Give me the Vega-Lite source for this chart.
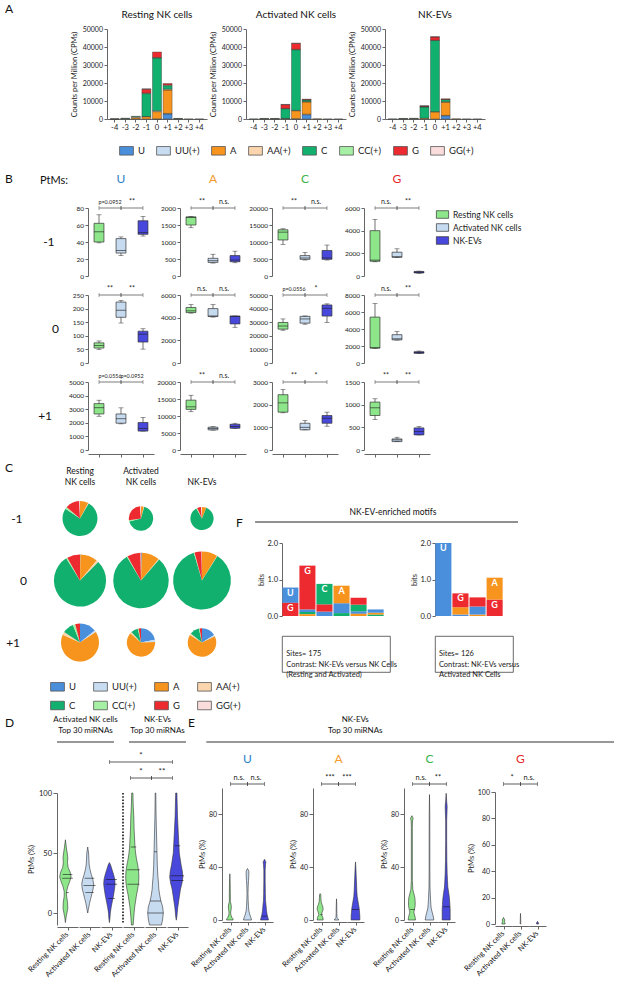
{
"$schema": "https://vega.github.io/schema/vega-lite/v6.json",
"padding": {"left": 5, "top": 3, "right": 2, "bottom": 0},
"config": {
  "font": "Lato",
  "view": {"stroke": null},
  "axis": {"grid": false, "labelFontSize": 7, "titleFontSize": 7.5, "titleFontWeight": "normal", "domainColor": "#666", "tickColor": "#666", "labelColor": "#222", "titleColor": "#222", "tickSize": 3, "labelPadding": 1.5},
  "title": {"fontWeight": "normal", "fontSize": 10, "color": "#111"},
  "header": {"labelFontWeight": "normal", "labelColor": "#111"},
  "legend": {"labelFontSize": 9, "labelColor": "#222"}
},
"resolve": {"scale": {"color": "independent"}},
"spacing": 4,
"datasets": {
"cpm": [
{"sample":"Resting NK cells","pos":"-4","nt":"A","cpm":60},{"sample":"Resting NK cells","pos":"-4","nt":"C","cpm":40},
{"sample":"Resting NK cells","pos":"-3","nt":"A","cpm":250},{"sample":"Resting NK cells","pos":"-3","nt":"C","cpm":200},
{"sample":"Resting NK cells","pos":"-2","nt":"A","cpm":700},{"sample":"Resting NK cells","pos":"-2","nt":"AA(+)","cpm":500},{"sample":"Resting NK cells","pos":"-2","nt":"C","cpm":300},
{"sample":"Resting NK cells","pos":"-1","nt":"A","cpm":1300},{"sample":"Resting NK cells","pos":"-1","nt":"AA(+)","cpm":100},{"sample":"Resting NK cells","pos":"-1","nt":"C","cpm":12700},{"sample":"Resting NK cells","pos":"-1","nt":"CC(+)","cpm":300},{"sample":"Resting NK cells","pos":"-1","nt":"G","cpm":2200},{"sample":"Resting NK cells","pos":"-1","nt":"GG(+)","cpm":100},
{"sample":"Resting NK cells","pos":"0","nt":"U","cpm":100},{"sample":"Resting NK cells","pos":"0","nt":"A","cpm":4000},{"sample":"Resting NK cells","pos":"0","nt":"AA(+)","cpm":500},{"sample":"Resting NK cells","pos":"0","nt":"C","cpm":29300},{"sample":"Resting NK cells","pos":"0","nt":"CC(+)","cpm":300},{"sample":"Resting NK cells","pos":"0","nt":"G","cpm":3000},
{"sample":"Resting NK cells","pos":"+1","nt":"U","cpm":2800},{"sample":"Resting NK cells","pos":"+1","nt":"UU(+)","cpm":300},{"sample":"Resting NK cells","pos":"+1","nt":"A","cpm":13000},{"sample":"Resting NK cells","pos":"+1","nt":"AA(+)","cpm":500},{"sample":"Resting NK cells","pos":"+1","nt":"C","cpm":1900},{"sample":"Resting NK cells","pos":"+1","nt":"CC(+)","cpm":400},{"sample":"Resting NK cells","pos":"+1","nt":"G","cpm":800},
{"sample":"Resting NK cells","pos":"+2","nt":"A","cpm":200},{"sample":"Resting NK cells","pos":"+2","nt":"C","cpm":100},
{"sample":"Resting NK cells","pos":"+3","nt":"A","cpm":30},{"sample":"Resting NK cells","pos":"+4","nt":"A","cpm":20},
{"sample":"Activated NK cells","pos":"-4","nt":"C","cpm":50},
{"sample":"Activated NK cells","pos":"-3","nt":"A","cpm":200},{"sample":"Activated NK cells","pos":"-3","nt":"C","cpm":100},
{"sample":"Activated NK cells","pos":"-2","nt":"A","cpm":200},{"sample":"Activated NK cells","pos":"-2","nt":"C","cpm":100},
{"sample":"Activated NK cells","pos":"-1","nt":"A","cpm":300},{"sample":"Activated NK cells","pos":"-1","nt":"AA(+)","cpm":50},{"sample":"Activated NK cells","pos":"-1","nt":"C","cpm":5400},{"sample":"Activated NK cells","pos":"-1","nt":"CC(+)","cpm":150},{"sample":"Activated NK cells","pos":"-1","nt":"G","cpm":2100},{"sample":"Activated NK cells","pos":"-1","nt":"GG(+)","cpm":100},
{"sample":"Activated NK cells","pos":"0","nt":"U","cpm":200},{"sample":"Activated NK cells","pos":"0","nt":"A","cpm":4400},{"sample":"Activated NK cells","pos":"0","nt":"AA(+)","cpm":200},{"sample":"Activated NK cells","pos":"0","nt":"C","cpm":33700},{"sample":"Activated NK cells","pos":"0","nt":"CC(+)","cpm":200},{"sample":"Activated NK cells","pos":"0","nt":"G","cpm":3300},{"sample":"Activated NK cells","pos":"0","nt":"GG(+)","cpm":100},
{"sample":"Activated NK cells","pos":"+1","nt":"U","cpm":2400},{"sample":"Activated NK cells","pos":"+1","nt":"UU(+)","cpm":300},{"sample":"Activated NK cells","pos":"+1","nt":"A","cpm":6800},{"sample":"Activated NK cells","pos":"+1","nt":"AA(+)","cpm":200},{"sample":"Activated NK cells","pos":"+1","nt":"C","cpm":900},{"sample":"Activated NK cells","pos":"+1","nt":"CC(+)","cpm":100},{"sample":"Activated NK cells","pos":"+1","nt":"G","cpm":300},
{"sample":"Activated NK cells","pos":"+2","nt":"A","cpm":100},{"sample":"Activated NK cells","pos":"+3","nt":"A","cpm":20},{"sample":"Activated NK cells","pos":"+4","nt":"A","cpm":10},
{"sample":"NK-EVs","pos":"-4","nt":"C","cpm":50},
{"sample":"NK-EVs","pos":"-3","nt":"A","cpm":200},{"sample":"NK-EVs","pos":"-3","nt":"C","cpm":100},
{"sample":"NK-EVs","pos":"-2","nt":"A","cpm":250},{"sample":"NK-EVs","pos":"-2","nt":"C","cpm":150},
{"sample":"NK-EVs","pos":"-1","nt":"A","cpm":450},{"sample":"NK-EVs","pos":"-1","nt":"C","cpm":6300},{"sample":"NK-EVs","pos":"-1","nt":"CC(+)","cpm":100},{"sample":"NK-EVs","pos":"-1","nt":"G","cpm":400},{"sample":"NK-EVs","pos":"-1","nt":"GG(+)","cpm":100},
{"sample":"NK-EVs","pos":"0","nt":"A","cpm":4000},{"sample":"NK-EVs","pos":"0","nt":"AA(+)","cpm":100},{"sample":"NK-EVs","pos":"0","nt":"C","cpm":39500},{"sample":"NK-EVs","pos":"0","nt":"CC(+)","cpm":200},{"sample":"NK-EVs","pos":"0","nt":"G","cpm":1800},{"sample":"NK-EVs","pos":"0","nt":"GG(+)","cpm":100},
{"sample":"NK-EVs","pos":"+1","nt":"U","cpm":1800},{"sample":"NK-EVs","pos":"+1","nt":"UU(+)","cpm":200},{"sample":"NK-EVs","pos":"+1","nt":"A","cpm":7400},{"sample":"NK-EVs","pos":"+1","nt":"AA(+)","cpm":200},{"sample":"NK-EVs","pos":"+1","nt":"C","cpm":1200},{"sample":"NK-EVs","pos":"+1","nt":"CC(+)","cpm":100},{"sample":"NK-EVs","pos":"+1","nt":"G","cpm":300},
{"sample":"NK-EVs","pos":"+2","nt":"A","cpm":100},{"sample":"NK-EVs","pos":"+3","nt":"A","cpm":20},{"sample":"NK-EVs","pos":"+4","nt":"A","cpm":10}
],
"box": [
{"kind":"box","pos":"-1","nt":"U","g":"Resting NK cells","mn":39,"q1":40,"md":52,"q3":62,"mx":72,"top":80},
{"kind":"box","pos":"-1","nt":"U","g":"Activated NK cells","mn":24,"q1":27,"md":30,"q3":44,"mx":46,"top":80},
{"kind":"box","pos":"-1","nt":"U","g":"NK-EVs","mn":47,"q1":49,"md":51,"q3":65,"mx":70,"top":80},
{"kind":"box","pos":"-1","nt":"A","g":"Resting NK cells","mn":1420,"q1":1500,"md":1720,"q3":1740,"mx":1750,"top":2000},
{"kind":"box","pos":"-1","nt":"A","g":"Activated NK cells","mn":380,"q1":400,"md":450,"q3":520,"mx":640,"top":2000},
{"kind":"box","pos":"-1","nt":"A","g":"NK-EVs","mn":390,"q1":420,"md":470,"q3":600,"mx":730,"top":2000},
{"kind":"box","pos":"-1","nt":"C","g":"Resting NK cells","mn":9300,"q1":10600,"md":12900,"q3":13600,"mx":13900,"top":20000},
{"kind":"box","pos":"-1","nt":"C","g":"Activated NK cells","mn":4700,"q1":4900,"md":5300,"q3":6000,"mx":6900,"top":20000},
{"kind":"box","pos":"-1","nt":"C","g":"NK-EVs","mn":4700,"q1":4900,"md":5300,"q3":7500,"mx":9100,"top":20000},
{"kind":"box","pos":"-1","nt":"G","g":"Resting NK cells","mn":1250,"q1":1300,"md":1400,"q3":4000,"mx":5000,"top":6000},
{"kind":"box","pos":"-1","nt":"G","g":"Activated NK cells","mn":1650,"q1":1650,"md":1700,"q3":2100,"mx":2400,"top":6000},
{"kind":"box","pos":"-1","nt":"G","g":"NK-EVs","mn":240,"q1":270,"md":330,"q3":400,"mx":430,"top":6000},
{"kind":"box","pos":"0","nt":"U","g":"Resting NK cells","mn":49,"q1":55,"md":64,"q3":74,"mx":81,"top":250},
{"kind":"box","pos":"0","nt":"U","g":"Activated NK cells","mn":147,"q1":168,"md":194,"q3":224,"mx":230,"top":250},
{"kind":"box","pos":"0","nt":"U","g":"NK-EVs","mn":51,"q1":77,"md":106,"q3":117,"mx":126,"top":250},
{"kind":"box","pos":"0","nt":"A","g":"Resting NK cells","mn":4400,"q1":4450,"md":4600,"q3":4900,"mx":5150,"top":6000},
{"kind":"box","pos":"0","nt":"A","g":"Activated NK cells","mn":4050,"q1":4100,"md":4150,"q3":4800,"mx":5150,"top":6000},
{"kind":"box","pos":"0","nt":"A","g":"NK-EVs","mn":3150,"q1":3450,"md":4100,"q3":4150,"mx":4150,"top":6000},
{"kind":"box","pos":"0","nt":"C","g":"Resting NK cells","mn":24100,"q1":24900,"md":27200,"q3":29800,"mx":32400,"top":50000},
{"kind":"box","pos":"0","nt":"C","g":"Activated NK cells","mn":28500,"q1":29300,"md":32400,"q3":34300,"mx":34600,"top":50000},
{"kind":"box","pos":"0","nt":"C","g":"NK-EVs","mn":29800,"q1":34500,"md":40200,"q3":42700,"mx":43500,"top":50000},
{"kind":"box","pos":"0","nt":"G","g":"Resting NK cells","mn":1700,"q1":1750,"md":1800,"q3":5400,"mx":7000,"top":8000},
{"kind":"box","pos":"0","nt":"G","g":"Activated NK cells","mn":2700,"q1":2720,"md":2850,"q3":3330,"mx":3730,"top":8000},
{"kind":"box","pos":"0","nt":"G","g":"NK-EVs","mn":1100,"q1":1140,"md":1220,"q3":1330,"mx":1410,"top":8000},
{"kind":"box","pos":"+1","nt":"U","g":"Resting NK cells","mn":2480,"q1":2650,"md":3110,"q3":3410,"mx":3660,"top":5000},
{"kind":"box","pos":"+1","nt":"U","g":"Activated NK cells","mn":1920,"q1":1970,"md":2300,"q3":2650,"mx":3100,"top":5000},
{"kind":"box","pos":"+1","nt":"U","g":"NK-EVs","mn":1390,"q1":1390,"md":1590,"q3":2020,"mx":2400,"top":5000},
{"kind":"box","pos":"+1","nt":"A","g":"Resting NK cells","mn":11260,"q1":11940,"md":12700,"q3":14660,"mx":16100,"top":20000},
{"kind":"box","pos":"+1","nt":"A","g":"Activated NK cells","mn":5830,"q1":5920,"md":6310,"q3":6700,"mx":6900,"top":20000},
{"kind":"box","pos":"+1","nt":"A","g":"NK-EVs","mn":6310,"q1":6400,"md":6890,"q3":7570,"mx":7860,"top":20000},
{"kind":"box","pos":"+1","nt":"C","g":"Resting NK cells","mn":1640,"q1":1670,"md":2080,"q3":2440,"mx":2670,"top":3000},
{"kind":"box","pos":"+1","nt":"C","g":"Activated NK cells","mn":890,"q1":890,"md":1000,"q3":1180,"mx":1300,"top":3000},
{"kind":"box","pos":"+1","nt":"C","g":"NK-EVs","mn":1050,"q1":1180,"md":1400,"q3":1520,"mx":1670,"top":3000},
{"kind":"box","pos":"+1","nt":"G","g":"Resting NK cells","mn":672,"q1":761,"md":931,"q3":1057,"mx":1130,"top":1500},
{"kind":"box","pos":"+1","nt":"G","g":"Activated NK cells","mn":185,"q1":185,"md":222,"q3":244,"mx":281,"top":1500},
{"kind":"box","pos":"+1","nt":"G","g":"NK-EVs","mn":333,"q1":333,"md":406,"q3":488,"mx":517,"top":1500},
{"kind":"sig","pos":"-1","nt":"U","from":"Resting NK cells","to":"Activated NK cells","label":"p=0.0952","top":80},
{"kind":"sig","pos":"-1","nt":"U","from":"Activated NK cells","to":"NK-EVs","label":"**","top":80},
{"kind":"sig","pos":"-1","nt":"A","from":"Resting NK cells","to":"Activated NK cells","label":"**","top":2000},
{"kind":"sig","pos":"-1","nt":"A","from":"Activated NK cells","to":"NK-EVs","label":"n.s.","top":2000},
{"kind":"sig","pos":"-1","nt":"C","from":"Resting NK cells","to":"Activated NK cells","label":"**","top":20000},
{"kind":"sig","pos":"-1","nt":"C","from":"Activated NK cells","to":"NK-EVs","label":"n.s.","top":20000},
{"kind":"sig","pos":"-1","nt":"G","from":"Resting NK cells","to":"Activated NK cells","label":"n.s.","top":6000},
{"kind":"sig","pos":"-1","nt":"G","from":"Activated NK cells","to":"NK-EVs","label":"**","top":6000},
{"kind":"sig","pos":"0","nt":"U","from":"Resting NK cells","to":"Activated NK cells","label":"**","top":250},
{"kind":"sig","pos":"0","nt":"U","from":"Activated NK cells","to":"NK-EVs","label":"**","top":250},
{"kind":"sig","pos":"0","nt":"A","from":"Resting NK cells","to":"Activated NK cells","label":"n.s.","top":6000},
{"kind":"sig","pos":"0","nt":"A","from":"Activated NK cells","to":"NK-EVs","label":"n.s.","top":6000},
{"kind":"sig","pos":"0","nt":"C","from":"Resting NK cells","to":"Activated NK cells","label":"p=0.0556","top":50000},
{"kind":"sig","pos":"0","nt":"C","from":"Activated NK cells","to":"NK-EVs","label":"*","top":50000},
{"kind":"sig","pos":"0","nt":"G","from":"Resting NK cells","to":"Activated NK cells","label":"n.s.","top":8000},
{"kind":"sig","pos":"0","nt":"G","from":"Activated NK cells","to":"NK-EVs","label":"**","top":8000},
{"kind":"sig","pos":"+1","nt":"U","from":"Resting NK cells","to":"Activated NK cells","label":"p=0.0556","top":5000},
{"kind":"sig","pos":"+1","nt":"U","from":"Activated NK cells","to":"NK-EVs","label":"p=0.0952","top":5000},
{"kind":"sig","pos":"+1","nt":"A","from":"Resting NK cells","to":"Activated NK cells","label":"**","top":20000},
{"kind":"sig","pos":"+1","nt":"A","from":"Activated NK cells","to":"NK-EVs","label":"n.s.","top":20000},
{"kind":"sig","pos":"+1","nt":"C","from":"Resting NK cells","to":"Activated NK cells","label":"**","top":3000},
{"kind":"sig","pos":"+1","nt":"C","from":"Activated NK cells","to":"NK-EVs","label":"*","top":3000},
{"kind":"sig","pos":"+1","nt":"G","from":"Resting NK cells","to":"Activated NK cells","label":"**","top":1500},
{"kind":"sig","pos":"+1","nt":"G","from":"Activated NK cells","to":"NK-EVs","label":"**","top":1500}
],
"logo": [
{"motif":1,"p":1,"nt":"U","bits":0.42},{"motif":1,"p":1,"nt":"G","bits":0.36},
{"motif":1,"p":2,"nt":"C","bits":0.06},{"motif":1,"p":2,"nt":"A","bits":0.05},{"motif":1,"p":2,"nt":"U","bits":0.07},{"motif":1,"p":2,"nt":"G","bits":1.2},
{"motif":1,"p":3,"nt":"U","bits":0.12},{"motif":1,"p":3,"nt":"G","bits":0.2},{"motif":1,"p":3,"nt":"C","bits":0.56},
{"motif":1,"p":4,"nt":"C","bits":0.08},{"motif":1,"p":4,"nt":"U","bits":0.27},{"motif":1,"p":4,"nt":"A","bits":0.48},
{"motif":1,"p":5,"nt":"U","bits":0.07},{"motif":1,"p":5,"nt":"A","bits":0.06},{"motif":1,"p":5,"nt":"C","bits":0.18},{"motif":1,"p":5,"nt":"G","bits":0.19},
{"motif":1,"p":6,"nt":"C","bits":0.04},{"motif":1,"p":6,"nt":"A","bits":0.05},{"motif":1,"p":6,"nt":"U","bits":0.09},
{"motif":2,"p":1,"nt":"U","bits":2.0},
{"motif":2,"p":2,"nt":"U","bits":0.04},{"motif":2,"p":2,"nt":"A","bits":0.2},{"motif":2,"p":2,"nt":"G","bits":0.38},
{"motif":2,"p":3,"nt":"A","bits":0.04},{"motif":2,"p":3,"nt":"U","bits":0.22},{"motif":2,"p":3,"nt":"G","bits":0.25},
{"motif":2,"p":4,"nt":"G","bits":0.45},{"motif":2,"p":4,"nt":"A","bits":0.6}
],
"sigv": [
{"set":"D","a":3,"b":6,"m":5,"lv":2,"label":"*"},
{"set":"D","a":4,"b":5,"m":5,"lv":1,"label":"*"},
{"set":"D","a":5,"b":6,"m":6,"lv":1,"label":"**"},
{"set":"U","a":1,"b":2,"m":2,"lv":1,"label":"n.s."},{"set":"U","a":2,"b":3,"m":3,"lv":1,"label":"n.s."},
{"set":"A","a":1,"b":2,"m":2,"lv":1,"label":"***"},{"set":"A","a":2,"b":3,"m":3,"lv":1,"label":"***"},
{"set":"C","a":1,"b":2,"m":2,"lv":1,"label":"n.s."},{"set":"C","a":2,"b":3,"m":3,"lv":1,"label":"**"},
{"set":"G","a":1,"b":2,"m":2,"lv":1,"label":"*"},{"set":"G","a":2,"b":3,"m":3,"lv":1,"label":"n.s."}
],
"viol": [
{"set":"D","grp":1,"ptm":-8,"dens":0},{"set":"D","grp":1,"ptm":-4,"dens":4},{"set":"D","grp":1,"ptm":0,"dens":10},{"set":"D","grp":1,"ptm":4,"dens":16},{"set":"D","grp":1,"ptm":9,"dens":14},{"set":"D","grp":1,"ptm":14,"dens":8},{"set":"D","grp":1,"ptm":18,"dens":8},{"set":"D","grp":1,"ptm":22,"dens":16},{"set":"D","grp":1,"ptm":26,"dens":28},{"set":"D","grp":1,"ptm":30,"dens":38},{"set":"D","grp":1,"ptm":34,"dens":32},{"set":"D","grp":1,"ptm":38,"dens":18},{"set":"D","grp":1,"ptm":42,"dens":14},{"set":"D","grp":1,"ptm":46,"dens":16},{"set":"D","grp":1,"ptm":50,"dens":12},{"set":"D","grp":1,"ptm":55,"dens":6},{"set":"D","grp":1,"ptm":61,"dens":0},
{"set":"D","grp":2,"ptm":0,"dens":0},{"set":"D","grp":2,"ptm":4,"dens":6},{"set":"D","grp":2,"ptm":8,"dens":12},{"set":"D","grp":2,"ptm":12,"dens":20},{"set":"D","grp":2,"ptm":16,"dens":28},{"set":"D","grp":2,"ptm":20,"dens":36},{"set":"D","grp":2,"ptm":24,"dens":40},{"set":"D","grp":2,"ptm":28,"dens":34},{"set":"D","grp":2,"ptm":32,"dens":24},{"set":"D","grp":2,"ptm":36,"dens":16},{"set":"D","grp":2,"ptm":40,"dens":10},{"set":"D","grp":2,"ptm":45,"dens":8},{"set":"D","grp":2,"ptm":50,"dens":6},{"set":"D","grp":2,"ptm":55,"dens":0},
{"set":"D","grp":3,"ptm":-8,"dens":0},{"set":"D","grp":3,"ptm":-4,"dens":4},{"set":"D","grp":3,"ptm":0,"dens":6},{"set":"D","grp":3,"ptm":5,"dens":12},{"set":"D","grp":3,"ptm":10,"dens":20},{"set":"D","grp":3,"ptm":15,"dens":28},{"set":"D","grp":3,"ptm":20,"dens":34},{"set":"D","grp":3,"ptm":24,"dens":38},{"set":"D","grp":3,"ptm":28,"dens":36},{"set":"D","grp":3,"ptm":32,"dens":28},{"set":"D","grp":3,"ptm":36,"dens":18},{"set":"D","grp":3,"ptm":40,"dens":8},{"set":"D","grp":3,"ptm":42,"dens":0},
{"set":"D","grp":4,"ptm":-10,"dens":6},{"set":"D","grp":4,"ptm":-6,"dens":8},{"set":"D","grp":4,"ptm":0,"dens":12},{"set":"D","grp":4,"ptm":5,"dens":16},{"set":"D","grp":4,"ptm":10,"dens":22},{"set":"D","grp":4,"ptm":15,"dens":28},{"set":"D","grp":4,"ptm":20,"dens":36},{"set":"D","grp":4,"ptm":25,"dens":42},{"set":"D","grp":4,"ptm":30,"dens":44},{"set":"D","grp":4,"ptm":35,"dens":42},{"set":"D","grp":4,"ptm":40,"dens":36},{"set":"D","grp":4,"ptm":45,"dens":28},{"set":"D","grp":4,"ptm":50,"dens":22},{"set":"D","grp":4,"ptm":55,"dens":18},{"set":"D","grp":4,"ptm":60,"dens":16},{"set":"D","grp":4,"ptm":70,"dens":12},{"set":"D","grp":4,"ptm":80,"dens":10},{"set":"D","grp":4,"ptm":90,"dens":6},{"set":"D","grp":4,"ptm":100,"dens":4},
{"set":"D","grp":5,"ptm":-10,"dens":40},{"set":"D","grp":5,"ptm":-5,"dens":48},{"set":"D","grp":5,"ptm":0,"dens":52},{"set":"D","grp":5,"ptm":5,"dens":48},{"set":"D","grp":5,"ptm":10,"dens":36},{"set":"D","grp":5,"ptm":15,"dens":28},{"set":"D","grp":5,"ptm":20,"dens":22},{"set":"D","grp":5,"ptm":25,"dens":20},{"set":"D","grp":5,"ptm":30,"dens":16},{"set":"D","grp":5,"ptm":40,"dens":12},{"set":"D","grp":5,"ptm":50,"dens":10},{"set":"D","grp":5,"ptm":60,"dens":8},{"set":"D","grp":5,"ptm":70,"dens":6},{"set":"D","grp":5,"ptm":80,"dens":4},{"set":"D","grp":5,"ptm":90,"dens":3},{"set":"D","grp":5,"ptm":100,"dens":2},
{"set":"D","grp":6,"ptm":-6,"dens":0},{"set":"D","grp":6,"ptm":-3,"dens":4},{"set":"D","grp":6,"ptm":0,"dens":6},{"set":"D","grp":6,"ptm":5,"dens":10},{"set":"D","grp":6,"ptm":10,"dens":16},{"set":"D","grp":6,"ptm":15,"dens":22},{"set":"D","grp":6,"ptm":20,"dens":28},{"set":"D","grp":6,"ptm":25,"dens":38},{"set":"D","grp":6,"ptm":30,"dens":44},{"set":"D","grp":6,"ptm":35,"dens":40},{"set":"D","grp":6,"ptm":40,"dens":32},{"set":"D","grp":6,"ptm":45,"dens":26},{"set":"D","grp":6,"ptm":50,"dens":20},{"set":"D","grp":6,"ptm":55,"dens":18},{"set":"D","grp":6,"ptm":60,"dens":16},{"set":"D","grp":6,"ptm":70,"dens":12},{"set":"D","grp":6,"ptm":80,"dens":8},{"set":"D","grp":6,"ptm":90,"dens":6},{"set":"D","grp":6,"ptm":100,"dens":4},
{"set":"D","grp":1,"kind":"med","ptm":29,"dens":36},{"set":"D","grp":1,"kind":"q","ptm":32,"dens":32},{"set":"D","grp":1,"kind":"q","ptm":17,"dens":8},
{"set":"D","grp":2,"kind":"med","ptm":23,"dens":40},{"set":"D","grp":2,"kind":"q","ptm":29,"dens":32},{"set":"D","grp":2,"kind":"q","ptm":17,"dens":28},
{"set":"D","grp":3,"kind":"med","ptm":24,"dens":38},{"set":"D","grp":3,"kind":"q","ptm":28,"dens":36},{"set":"D","grp":3,"kind":"q","ptm":12,"dens":22},
{"set":"D","grp":4,"kind":"med","ptm":36,"dens":42},{"set":"D","grp":4,"kind":"q","ptm":55,"dens":18},{"set":"D","grp":4,"kind":"q","ptm":24,"dens":40},
{"set":"D","grp":5,"kind":"med","ptm":10,"dens":36},{"set":"D","grp":5,"kind":"q","ptm":51,"dens":10},{"set":"D","grp":5,"kind":"q","ptm":0,"dens":52},
{"set":"D","grp":6,"kind":"med","ptm":31,"dens":44},{"set":"D","grp":6,"kind":"q","ptm":56,"dens":18},{"set":"D","grp":6,"kind":"q","ptm":27,"dens":40},
{"set":"D","grp":4,"kind":"sep","ptm":0,"dens":0},
{"set":"U","grp":1,"ptm":0,"dens":20},{"set":"U","grp":1,"ptm":1,"dens":18},{"set":"U","grp":1,"ptm":2,"dens":12},{"set":"U","grp":1,"ptm":4,"dens":6},{"set":"U","grp":1,"ptm":6,"dens":5},{"set":"U","grp":1,"ptm":8,"dens":8},{"set":"U","grp":1,"ptm":10,"dens":9},{"set":"U","grp":1,"ptm":12,"dens":7},{"set":"U","grp":1,"ptm":14,"dens":3},{"set":"U","grp":1,"ptm":20,"dens":3},{"set":"U","grp":1,"ptm":28,"dens":2},{"set":"U","grp":1,"ptm":35,"dens":0},
{"set":"U","grp":2,"ptm":0,"dens":24},{"set":"U","grp":2,"ptm":2,"dens":20},{"set":"U","grp":2,"ptm":4,"dens":14},{"set":"U","grp":2,"ptm":7,"dens":8},{"set":"U","grp":2,"ptm":10,"dens":6},{"set":"U","grp":2,"ptm":15,"dens":4},{"set":"U","grp":2,"ptm":20,"dens":3},{"set":"U","grp":2,"ptm":25,"dens":4},{"set":"U","grp":2,"ptm":30,"dens":6},{"set":"U","grp":2,"ptm":34,"dens":8},{"set":"U","grp":2,"ptm":37,"dens":8},{"set":"U","grp":2,"ptm":39,"dens":0},
{"set":"U","grp":3,"ptm":0,"dens":24},{"set":"U","grp":3,"ptm":2,"dens":20},{"set":"U","grp":3,"ptm":4,"dens":16},{"set":"U","grp":3,"ptm":7,"dens":12},{"set":"U","grp":3,"ptm":10,"dens":10},{"set":"U","grp":3,"ptm":15,"dens":6},{"set":"U","grp":3,"ptm":20,"dens":5},{"set":"U","grp":3,"ptm":30,"dens":4},{"set":"U","grp":3,"ptm":38,"dens":4},{"set":"U","grp":3,"ptm":42,"dens":6},{"set":"U","grp":3,"ptm":44,"dens":8},{"set":"U","grp":3,"ptm":46,"dens":0},
{"set":"U","grp":3,"kind":"med","ptm":3,"dens":17},
{"set":"A","grp":1,"ptm":0,"dens":18},{"set":"A","grp":1,"ptm":2,"dens":16},{"set":"A","grp":1,"ptm":4,"dens":8},{"set":"A","grp":1,"ptm":6,"dens":12},{"set":"A","grp":1,"ptm":8,"dens":18},{"set":"A","grp":1,"ptm":10,"dens":16},{"set":"A","grp":1,"ptm":12,"dens":10},{"set":"A","grp":1,"ptm":14,"dens":6},{"set":"A","grp":1,"ptm":17,"dens":4},{"set":"A","grp":1,"ptm":19,"dens":4},{"set":"A","grp":1,"ptm":20,"dens":0},
{"set":"A","grp":2,"ptm":0,"dens":14},{"set":"A","grp":2,"ptm":1,"dens":8},{"set":"A","grp":2,"ptm":2,"dens":3},{"set":"A","grp":2,"ptm":5,"dens":2},{"set":"A","grp":2,"ptm":10,"dens":1.6},{"set":"A","grp":2,"ptm":16,"dens":0},
{"set":"A","grp":3,"ptm":0,"dens":26},{"set":"A","grp":3,"ptm":3,"dens":26},{"set":"A","grp":3,"ptm":6,"dens":24},{"set":"A","grp":3,"ptm":9,"dens":22},{"set":"A","grp":3,"ptm":12,"dens":18},{"set":"A","grp":3,"ptm":15,"dens":14},{"set":"A","grp":3,"ptm":18,"dens":10},{"set":"A","grp":3,"ptm":22,"dens":8},{"set":"A","grp":3,"ptm":28,"dens":6},{"set":"A","grp":3,"ptm":34,"dens":4},{"set":"A","grp":3,"ptm":40,"dens":2},{"set":"A","grp":3,"ptm":44,"dens":0},
{"set":"A","grp":1,"kind":"med","ptm":4,"dens":8},{"set":"A","grp":3,"kind":"med","ptm":8,"dens":23},
{"set":"C","grp":1,"ptm":0,"dens":22},{"set":"C","grp":1,"ptm":2,"dens":20},{"set":"C","grp":1,"ptm":4,"dens":16},{"set":"C","grp":1,"ptm":6,"dens":12},{"set":"C","grp":1,"ptm":8,"dens":16},{"set":"C","grp":1,"ptm":11,"dens":20},{"set":"C","grp":1,"ptm":14,"dens":20},{"set":"C","grp":1,"ptm":17,"dens":18},{"set":"C","grp":1,"ptm":20,"dens":12},{"set":"C","grp":1,"ptm":23,"dens":6},{"set":"C","grp":1,"ptm":30,"dens":3},{"set":"C","grp":1,"ptm":50,"dens":3},{"set":"C","grp":1,"ptm":70,"dens":3},{"set":"C","grp":1,"ptm":75,"dens":4},{"set":"C","grp":1,"ptm":77,"dens":8},{"set":"C","grp":1,"ptm":79,"dens":0},
{"set":"C","grp":2,"ptm":0,"dens":26},{"set":"C","grp":2,"ptm":3,"dens":22},{"set":"C","grp":2,"ptm":6,"dens":16},{"set":"C","grp":2,"ptm":9,"dens":10},{"set":"C","grp":2,"ptm":12,"dens":8},{"set":"C","grp":2,"ptm":16,"dens":6},{"set":"C","grp":2,"ptm":25,"dens":3},{"set":"C","grp":2,"ptm":40,"dens":2},{"set":"C","grp":2,"ptm":60,"dens":2},{"set":"C","grp":2,"ptm":80,"dens":1.6},{"set":"C","grp":2,"ptm":95,"dens":0},
{"set":"C","grp":3,"ptm":0,"dens":24},{"set":"C","grp":3,"ptm":4,"dens":24},{"set":"C","grp":3,"ptm":8,"dens":24},{"set":"C","grp":3,"ptm":12,"dens":22},{"set":"C","grp":3,"ptm":16,"dens":20},{"set":"C","grp":3,"ptm":20,"dens":16},{"set":"C","grp":3,"ptm":25,"dens":10},{"set":"C","grp":3,"ptm":30,"dens":8},{"set":"C","grp":3,"ptm":35,"dens":6},{"set":"C","grp":3,"ptm":45,"dens":4},{"set":"C","grp":3,"ptm":60,"dens":3},{"set":"C","grp":3,"ptm":75,"dens":3},{"set":"C","grp":3,"ptm":82,"dens":5},{"set":"C","grp":3,"ptm":86,"dens":6},{"set":"C","grp":3,"ptm":90,"dens":3},{"set":"C","grp":3,"ptm":96,"dens":0},
{"set":"C","grp":1,"kind":"med","ptm":8,"dens":16},{"set":"C","grp":3,"kind":"med","ptm":10,"dens":23},
{"set":"G","grp":1,"ptm":0,"dens":10},{"set":"G","grp":1,"ptm":1,"dens":8},{"set":"G","grp":1,"ptm":2,"dens":6},{"set":"G","grp":1,"ptm":3,"dens":8},{"set":"G","grp":1,"ptm":4,"dens":4},{"set":"G","grp":1,"ptm":5,"dens":0},
{"set":"G","grp":2,"ptm":0,"dens":2},{"set":"G","grp":2,"ptm":4,"dens":1.2},{"set":"G","grp":2,"ptm":8,"dens":0},
{"set":"G","grp":3,"ptm":0,"dens":6},{"set":"G","grp":3,"ptm":1,"dens":5},{"set":"G","grp":3,"ptm":2,"dens":0}
]
},
"vconcat": [
{
  "spacing": 56,
  "resolve": {"scale": {"color": "independent"}},
  "hconcat": [
    {"width": 8, "height": 1, "data": {"values": [{}]},
     "mark": {"type": "text", "fontSize": 12, "align": "left", "baseline": "bottom", "dy": -13, "color": "#111"},
     "encoding": {"x": {"datum": 0, "type": "quantitative", "scale": {"domain": [0, 1]}, "axis": null}, "y": {"datum": 1, "type": "quantitative", "scale": {"domain": [0, 1]}, "axis": null}, "text": {"value": "A"}}},
    {"spacing": 2, "hconcat": [
      {"width": 100, "height": 90, "title": {"text": "Resting NK cells", "offset": 5},
       "data": {"name": "cpm"},
       "transform": [{"filter": {"field": "sample", "equal": "Resting NK cells"}}, {"calculate": "indexof(['U','UU(+)','A','AA(+)','C','CC(+)','G','GG(+)'], datum.nt)", "as": "rank"}],
       "mark": {"type": "bar", "stroke": "#333", "strokeWidth": 0.4},
       "encoding": {
         "x": {"field": "pos", "type": "ordinal", "sort": ["-4","-3","-2","-1","0","+1","+2","+3","+4"], "scale": {"paddingInner": 0.15, "paddingOuter": 0.3}, "axis": {"title": null, "labelAngle": 0, "labelFontSize": 7.5}},
         "y": {"field": "cpm", "type": "quantitative", "scale": {"domain": [0, 50000]}, "axis": {"title": "Counts per Million (CPMs)", "format": "d", "tickCount": 5}},
         "color": {"field": "nt", "type": "nominal", "scale": {"domain": ["U","UU(+)","A","AA(+)","C","CC(+)","G","GG(+)"], "range": ["#4a8fdc","#c9ddf2","#f7941d","#fbd5ad","#12b06e","#a6f0a6","#ec2a2f","#fadcdc"]}, "legend": {"title": null, "orient": "bottom", "direction": "horizontal", "columns": 8, "symbolType": "M-1,-0.62H1V0.62H-1Z", "symbolSize": 190, "symbolStrokeColor": "#555", "symbolStrokeWidth": 0.8, "labelFontSize": 9.5, "columnPadding": 10, "offset": 0, "padding": 12}},
         "order": {"field": "rank", "type": "quantitative"}
       }},
      {"width": 100, "height": 90, "title": {"text": "Activated NK cells", "offset": 5},
       "data": {"name": "cpm"},
       "transform": [{"filter": {"field": "sample", "equal": "Activated NK cells"}}, {"calculate": "indexof(['U','UU(+)','A','AA(+)','C','CC(+)','G','GG(+)'], datum.nt)", "as": "rank"}],
       "mark": {"type": "bar", "stroke": "#333", "strokeWidth": 0.4},
       "encoding": {
         "x": {"field": "pos", "type": "ordinal", "sort": ["-4","-3","-2","-1","0","+1","+2","+3","+4"], "scale": {"paddingInner": 0.15, "paddingOuter": 0.3}, "axis": {"title": null, "labelAngle": 0, "labelFontSize": 7.5}},
         "y": {"field": "cpm", "type": "quantitative", "scale": {"domain": [0, 50000]}, "axis": {"title": "Counts per Million (CPMs)", "format": "d", "tickCount": 5}},
         "color": {"field": "nt", "type": "nominal", "scale": {"domain": ["U","UU(+)","A","AA(+)","C","CC(+)","G","GG(+)"], "range": ["#4a8fdc","#c9ddf2","#f7941d","#fbd5ad","#12b06e","#a6f0a6","#ec2a2f","#fadcdc"]}, "legend": {"title": null, "orient": "bottom", "direction": "horizontal", "columns": 8, "symbolType": "M-1,-0.62H1V0.62H-1Z", "symbolSize": 190, "symbolStrokeColor": "#555", "symbolStrokeWidth": 0.8, "labelFontSize": 9.5, "columnPadding": 10, "offset": 0, "padding": 12}},
         "order": {"field": "rank", "type": "quantitative"}
       }},
      {"width": 100, "height": 90, "title": {"text": "NK-EVs", "offset": 5},
       "data": {"name": "cpm"},
       "transform": [{"filter": {"field": "sample", "equal": "NK-EVs"}}, {"calculate": "indexof(['U','UU(+)','A','AA(+)','C','CC(+)','G','GG(+)'], datum.nt)", "as": "rank"}],
       "mark": {"type": "bar", "stroke": "#333", "strokeWidth": 0.4},
       "encoding": {
         "x": {"field": "pos", "type": "ordinal", "sort": ["-4","-3","-2","-1","0","+1","+2","+3","+4"], "scale": {"paddingInner": 0.15, "paddingOuter": 0.3}, "axis": {"title": null, "labelAngle": 0, "labelFontSize": 7.5}},
         "y": {"field": "cpm", "type": "quantitative", "scale": {"domain": [0, 50000]}, "axis": {"title": "Counts per Million (CPMs)", "format": "d", "tickCount": 5}},
         "color": {"field": "nt", "type": "nominal", "scale": {"domain": ["U","UU(+)","A","AA(+)","C","CC(+)","G","GG(+)"], "range": ["#4a8fdc","#c9ddf2","#f7941d","#fbd5ad","#12b06e","#a6f0a6","#ec2a2f","#fadcdc"]}, "legend": {"title": null, "orient": "bottom", "direction": "horizontal", "columns": 8, "symbolType": "M-1,-0.62H1V0.62H-1Z", "symbolSize": 190, "symbolStrokeColor": "#555", "symbolStrokeWidth": 0.8, "labelFontSize": 9.5, "columnPadding": 10, "offset": 0, "padding": 12}},
         "order": {"field": "rank", "type": "quantitative"}
       }}
    ]}
  ]
},
{
  "spacing": -30,
  "hconcat": [
    {"width": 63, "height": 1, "data": {"values": [{}]},
     "layer": [
       {"mark": {"type": "text", "fontSize": 12, "align": "left", "baseline": "bottom", "dy": -22, "color": "#111"},
        "encoding": {"x": {"datum": 0, "type": "quantitative", "scale": {"domain": [0, 1]}, "axis": null}, "y": {"datum": 1, "type": "quantitative", "scale": {"domain": [0, 1]}, "axis": null}, "text": {"value": "B"}}},
       {"mark": {"type": "text", "fontSize": 11, "align": "right", "baseline": "bottom", "dy": -22, "color": "#111"},
        "encoding": {"x": {"datum": 1, "type": "quantitative"}, "y": {"datum": 1, "type": "quantitative"}, "text": {"value": "PtMs:"}}}
     ]},
    {
      "data": {"name": "box"},
      "facet": {
        "row": {"field": "pos", "type": "nominal", "sort": ["-1","0","+1"], "header": {"title": null, "labelAngle": 0, "labelFontSize": 12, "labelPadding": 2}},
        "column": {"field": "nt", "type": "nominal", "sort": ["U","A","C","G"], "header": {"title": null, "labelFontSize": 12, "labelPadding": 12, "labelColor": {"expr": "parent.nt == 'U' ? '#2b80c8' : parent.nt == 'A' ? '#f39a2c' : parent.nt == 'C' ? '#3cb44a' : '#e6262c'"}}}
      },
      "spacing": {"row": 5, "column": 2},
      "resolve": {"scale": {"y": "independent"}},
      "spec": {
        "width": 66, "height": 68,
        "layer": [
          {"transform": [{"filter": "datum.kind == 'box'"}], "mark": {"type": "rule", "color": "#333", "strokeWidth": 0.7},
           "encoding": {"x": {"field": "g", "type": "nominal", "scale": {"domain": ["Resting NK cells","Activated NK cells","NK-EVs"], "paddingInner": 0, "paddingOuter": 0}, "axis": {"title": null, "labels": false, "tickSize": 3}},
             "y": {"field": "mn", "type": "quantitative", "scale": {"zero": true, "nice": false}, "axis": {"title": null, "tickCount": 4, "format": "d", "labelFontSize": 6.5}}, "y2": {"field": "mx"}}},
          {"transform": [{"filter": "datum.kind == 'box'"}], "mark": {"type": "bar", "stroke": "#333", "strokeWidth": 0.7, "width": {"band": 0.45}},
           "encoding": {"x": {"field": "g", "type": "nominal"}, "y": {"field": "q1", "type": "quantitative"}, "y2": {"field": "q3"},
             "color": {"field": "g", "type": "nominal", "scale": {"domain": ["Resting NK cells","Activated NK cells","NK-EVs"], "range": ["#8ee68b","#c6daf0","#4848dc"]}, "legend": {"title": null, "orient": "right", "labelFontSize": 8.5, "symbolType": "M-1,-0.62H1V0.62H-1Z", "symbolSize": 150, "symbolStrokeColor": "#333", "symbolStrokeWidth": 0.7, "rowPadding": 1, "offset": 6}}}},
          {"transform": [{"filter": "datum.kind == 'box'"}], "mark": {"type": "tick", "color": "#222", "thickness": 0.9, "size": 10},
           "encoding": {"x": {"field": "g", "type": "nominal"}, "y": {"field": "md", "type": "quantitative"}}},
          {"transform": [{"filter": "datum.kind == 'box'"}], "mark": {"type": "tick", "color": "#333", "thickness": 0.7, "size": 5},
           "encoding": {"x": {"field": "g", "type": "nominal"}, "y": {"field": "mn", "type": "quantitative"}}},
          {"transform": [{"filter": "datum.kind == 'box'"}], "mark": {"type": "tick", "color": "#333", "thickness": 0.7, "size": 5},
           "encoding": {"x": {"field": "g", "type": "nominal"}, "y": {"field": "mx", "type": "quantitative"}}},
          {"transform": [{"filter": "datum.kind == 'sig'"}], "mark": {"type": "rule", "color": "#444", "strokeWidth": 0.7},
           "encoding": {"x": {"field": "from", "type": "nominal"}, "x2": {"field": "to"}, "y": {"field": "top", "type": "quantitative"}}},
          {"transform": [{"filter": "datum.kind == 'sig'"}], "mark": {"type": "tick", "orient": "vertical", "size": 4, "thickness": 0.7, "color": "#444"},
           "encoding": {"x": {"field": "from", "type": "nominal"}, "y": {"field": "top", "type": "quantitative"}}},
          {"transform": [{"filter": "datum.kind == 'sig'"}], "mark": {"type": "tick", "orient": "vertical", "size": 4, "thickness": 0.7, "color": "#444"},
           "encoding": {"x": {"field": "to", "type": "nominal"}, "y": {"field": "top", "type": "quantitative"}}},
          {"transform": [{"filter": "datum.kind == 'sig'"}], "mark": {"type": "text", "baseline": "bottom", "dy": -3, "color": "#222"},
           "encoding": {"x": {"field": "to", "type": "nominal", "bandPosition": 0}, "y": {"field": "top", "type": "quantitative"}, "text": {"field": "label"},
             "size": {"condition": {"test": "length(datum.label) > 4", "value": 5.4}, "value": 7}}}
        ]
      }
    }
  ]
},
{
  "spacing": -8,
  "resolve": {"scale": {"color": "independent"}},
  "hconcat": [
    {"width": 8, "height": 1, "data": {"values": [{}]},
     "mark": {"type": "text", "fontSize": 12, "align": "left", "baseline": "bottom", "dy": -13, "color": "#111"},
     "encoding": {"x": {"datum": 0, "type": "quantitative", "scale": {"domain": [0, 1]}, "axis": null}, "y": {"datum": 1, "type": "quantitative", "scale": {"domain": [0, 1]}, "axis": null}, "text": {"value": "C"}}},
    {"spacing": -5, "resolve": {"scale": {"color": "independent"}}, "hconcat": [
    {
      "data": {"name": "cpm"},
      "transform": [
        {"filter": "datum.pos == '-1' || datum.pos == '0' || datum.pos == '+1'"},
        {"joinaggregate": [{"op": "sum", "field": "cpm", "as": "tot"}], "groupby": ["sample", "pos"]},
        {"calculate": "indexof(['U','UU(+)','A','AA(+)','C','CC(+)','G','GG(+)'], datum.nt)", "as": "rank"}
      ],
      "facet": {
        "row": {"field": "pos", "type": "nominal", "sort": ["-1","0","+1"], "header": {"title": null, "labelAngle": 0, "labelFontSize": 12, "labelPadding": 16}},
        "column": {"field": "sample", "type": "nominal", "sort": ["Resting NK cells","Activated NK cells","NK-EVs"], "header": {"title": null, "labelFontSize": 8.5, "labelLineHeight": 11, "labelPadding": 2, "labelExpr": "datum.value == 'NK-EVs' ? 'NK-EVs' : [split(datum.value, ' ')[0], 'NK cells']"}}
      },
      "spacing": {"row": 1, "column": 1},
      "spec": {
        "width": 60, "height": 61,
        "mark": {"type": "arc"},
        "encoding": {
          "theta": {"field": "cpm", "type": "quantitative", "stack": true},
          "radius": {"field": "tot", "type": "quantitative", "scale": {"type": "sqrt", "zero": true, "domain": [0, 46000], "range": [0, 29]}},
          "color": {"field": "nt", "type": "nominal", "scale": {"domain": ["U","UU(+)","A","AA(+)","C","CC(+)","G","GG(+)"], "range": ["#4a8fdc","#c9ddf2","#f7941d","#fbd5ad","#12b06e","#a6f0a6","#ec2a2f","#fadcdc"]}, "legend": {"title": null, "orient": "bottom", "direction": "horizontal", "columns": 4, "symbolType": "M-1,-0.62H1V0.62H-1Z", "symbolSize": 190, "symbolStrokeColor": "#555", "symbolStrokeWidth": 0.8, "labelFontSize": 9.5, "columnPadding": 16, "rowPadding": 5, "offset": 6}},
          "order": {"field": "rank", "type": "quantitative"}
        }
      }
    },
    {
      "spacing": 10,
      "vconcat": [
        {"title": {"text": "F", "orient": "left", "angle": 0, "anchor": "start", "align": "right", "baseline": "middle", "fontSize": 12, "offset": 5},
         "width": 236, "height": 34, "data": {"values": [{}]},
         "layer": [
           {"mark": {"type": "rule", "color": "#222", "strokeWidth": 1},
            "encoding": {"x": {"datum": -0.114, "type": "quantitative", "scale": {"domain": [0, 1]}, "axis": null}, "x2": {"datum": 1}, "y": {"datum": 0, "type": "quantitative", "scale": {"domain": [0, 1]}, "axis": null}}},
           {"mark": {"type": "text", "fontSize": 8.5, "baseline": "bottom", "color": "#111"},
            "encoding": {"x": {"datum": 0.47, "type": "quantitative"}, "y": {"datum": 0.15, "type": "quantitative"}, "text": {"value": "NK-EV-enriched motifs"}}}
         ]},
        {"spacing": 12, "hconcat": [
          {"spacing": 10, "vconcat": [
            {"width": 102, "height": 73, "data": {"name": "logo"}, "transform": [{"filter": "datum.motif == 1"}],
             "encoding": {
               "x": {"field": "p", "type": "ordinal", "axis": null, "scale": {"paddingInner": 0.06, "paddingOuter": 0.02}},
               "y": {"field": "bits", "type": "quantitative", "stack": "zero", "scale": {"domain": [0, 2]}, "axis": {"title": "bits", "values": [0, 1, 2], "titlePadding": 2, "labelFontSize": 7.5}},
               "order": {"field": "bits", "type": "quantitative"}
             },
             "layer": [
               {"mark": {"type": "bar"}, "encoding": {"color": {"field": "nt", "type": "nominal", "scale": {"domain": ["U","UU(+)","A","AA(+)","C","CC(+)","G","GG(+)"], "range": ["#4a8fdc","#c9ddf2","#f7941d","#fbd5ad","#12b06e","#a6f0a6","#ec2a2f","#fadcdc"]}, "legend": null}}},
               {"mark": {"type": "text", "color": "white", "fontWeight": "bold", "fontSize": 9, "baseline": "top", "dy": 1}, "encoding": {"text": {"field": "nt"}, "detail": {"field": "nt"}, "opacity": {"condition": {"test": "datum.bits >= 0.3", "value": 1}, "value": 0}}}
             ]},
            {"width": 108, "height": 36, "view": {"stroke": "#444", "strokeWidth": 0.8},
             "data": {"values": [{"txt": "Sites= 175\nContrast: NK-EVs versus NK Cells\n(Resting and Activated)"}]},
             "mark": {"type": "text", "align": "left", "baseline": "middle", "lineBreak": "\n", "fontSize": 7.5, "lineHeight": 10.5, "color": "#222"},
             "encoding": {"text": {"field": "txt"}, "x": {"datum": 0.04, "type": "quantitative", "scale": {"domain": [0, 1]}, "axis": null}}}
          ]},
          {"spacing": 10, "vconcat": [
            {"width": 68, "height": 73, "data": {"name": "logo"}, "transform": [{"filter": "datum.motif == 2"}],
             "encoding": {
               "x": {"field": "p", "type": "ordinal", "axis": null, "scale": {"paddingInner": 0.06, "paddingOuter": 0.02}},
               "y": {"field": "bits", "type": "quantitative", "stack": "zero", "scale": {"domain": [0, 2]}, "axis": {"title": "bits", "values": [0, 1, 2], "titlePadding": 2, "labelFontSize": 7.5}},
               "order": {"field": "bits", "type": "quantitative"}
             },
             "layer": [
               {"mark": {"type": "bar"}, "encoding": {"color": {"field": "nt", "type": "nominal", "scale": {"domain": ["U","UU(+)","A","AA(+)","C","CC(+)","G","GG(+)"], "range": ["#4a8fdc","#c9ddf2","#f7941d","#fbd5ad","#12b06e","#a6f0a6","#ec2a2f","#fadcdc"]}, "legend": null}}},
               {"mark": {"type": "text", "color": "white", "fontWeight": "bold", "fontSize": 9, "baseline": "top", "dy": 1}, "encoding": {"text": {"field": "nt"}, "detail": {"field": "nt"}, "opacity": {"condition": {"test": "datum.bits >= 0.3", "value": 1}, "value": 0}}}
             ]},
            {"width": 78, "height": 36, "view": {"stroke": "#444", "strokeWidth": 0.8},
             "data": {"values": [{"txt": "Sites= 126\nContrast: NK-EVs versus\nActivated NK Cells"}]},
             "mark": {"type": "text", "align": "left", "baseline": "middle", "lineBreak": "\n", "fontSize": 7.5, "lineHeight": 10.5, "color": "#222"},
             "encoding": {"text": {"field": "txt"}, "x": {"datum": 0.05, "type": "quantitative", "scale": {"domain": [0, 1]}, "axis": null}}}
          ]}
        ]}
      ]
    }
    ]}
  ]
},
{
  "spacing": 12,
  "hconcat": [
    {"width": 8, "height": 1, "data": {"values": [{}]},
     "mark": {"type": "text", "fontSize": 12, "align": "left", "baseline": "top", "dy": 2, "color": "#111"},
     "encoding": {"x": {"datum": 0, "type": "quantitative", "scale": {"domain": [0, 1]}, "axis": null}, "y": {"datum": 1, "type": "quantitative", "scale": {"domain": [0, 1]}, "axis": null}, "text": {"value": "D"}}},
    {"spacing": 0, "hconcat": [
    {
      "spacing": 3,
      "vconcat": [
        {"spacing": 10,
         "hconcat": [
           {"width": 57, "height": 26, "data": {"values": [{}]},
            "layer": [
              {"mark": {"type": "rule", "color": "#333", "strokeWidth": 1.2},
               "encoding": {"x": {"datum": 0, "type": "quantitative", "scale": {"domain": [0, 1]}, "axis": null}, "x2": {"datum": 1}, "y": {"datum": 0, "type": "quantitative", "scale": {"domain": [0, 1]}, "axis": null}}},
              {"mark": {"type": "text", "fontSize": 8, "lineHeight": 11, "lineBreak": "\n", "baseline": "top", "color": "#111"},
               "encoding": {"x": {"datum": 0.5, "type": "quantitative"}, "y": {"datum": 1, "type": "quantitative"}, "text": {"value": "Activated NK cells\nTop 30 miRNAs"}}}
            ]},
           {"width": 57, "height": 26, "data": {"values": [{}]},
            "layer": [
              {"mark": {"type": "rule", "color": "#333", "strokeWidth": 1.2},
               "encoding": {"x": {"datum": 0, "type": "quantitative", "scale": {"domain": [0, 1]}, "axis": null}, "x2": {"datum": 1}, "y": {"datum": 0, "type": "quantitative", "scale": {"domain": [0, 1]}, "axis": null}}},
              {"mark": {"type": "text", "fontSize": 8, "lineHeight": 11, "lineBreak": "\n", "baseline": "top", "color": "#111"},
               "encoding": {"x": {"datum": 0.5, "type": "quantitative"}, "y": {"datum": 1, "type": "quantitative"}, "text": {"value": "NK-EVs\nTop 30 miRNAs"}}}
            ]}
         ]},
        {"width": 126, "height": 40, "data": {"name": "sigv"}, "transform": [{"filter": "datum.set == 'D'"}],
         "encoding": {"y": {"field": "lv", "type": "quantitative", "scale": {"domain": [0.5, 3]}, "axis": null}},
         "layer": [
           {"mark": {"type": "rule", "color": "#333", "strokeWidth": 0.8}, "encoding": {"x": {"field": "a", "type": "ordinal", "scale": {"domain": [1,2,3,4,5,6], "paddingInner": 0, "paddingOuter": 0}, "axis": null}, "x2": {"field": "b"}}},
           {"mark": {"type": "tick", "orient": "vertical", "size": 4, "thickness": 0.8, "color": "#333"}, "encoding": {"x": {"field": "a", "type": "ordinal", "axis": null}}},
           {"mark": {"type": "tick", "orient": "vertical", "size": 4, "thickness": 0.8, "color": "#333"}, "encoding": {"x": {"field": "b", "type": "ordinal", "axis": null}}},
           {"mark": {"type": "text", "fontSize": 8, "baseline": "bottom", "dy": -2, "color": "#222"}, "encoding": {"x": {"field": "m", "type": "ordinal", "bandPosition": 0, "axis": null}, "text": {"field": "label"}}}
         ]},
        {"data": {"name": "viol"}, "transform": [{"filter": "datum.set == 'D'"}],
         "facet": {"column": {"field": "grp", "type": "ordinal", "header": {"title": null, "labelOrient": "bottom", "labelAngle": -45, "labelAlign": "right", "labelBaseline": "middle", "labelFontSize": 7.5, "labelPadding": 3, "labelExpr": "['Resting NK cells','Activated NK cells','NK-EVs'][(datum.value - 1) % 3]"}}},
         "spacing": 0,
         "spec": {
           "width": 21, "height": 132,
           "layer": [
             {"transform": [{"filter": "!datum.kind"}], "mark": {"type": "area", "orient": "horizontal", "stroke": "#333", "strokeWidth": 0.6},
              "encoding": {"y": {"field": "ptm", "type": "quantitative", "scale": {"domain": [-10, 100]}, "axis": {"title": "PtMs (%)", "values": [0, 50, 100], "tickSize": 4, "labelFontSize": 7.5, "titlePadding": 3}},
                "x": {"field": "dens", "type": "quantitative", "stack": "center", "impute": null, "scale": {"domain": [-9, 61], "nice": false, "zero": false}, "axis": {"title": null, "labels": false, "values": [26], "tickSize": 3}},
                "color": {"field": "grp", "type": "nominal", "scale": {"domain": [1,2,3,4,5,6], "range": ["#8ee68b","#c6daf0","#4848dc","#8ee68b","#c6daf0","#4848dc"]}, "legend": null}}},
             {"transform": [{"filter": "datum.kind == 'med' || datum.kind == 'q'"}], "mark": {"type": "tick", "color": "#111", "thickness": 0.8},
              "encoding": {"y": {"field": "ptm", "type": "quantitative"}, "size": {"field": "dens", "type": "quantitative", "scale": {"domain": [0, 70], "range": [0, 21]}, "legend": null},
                "strokeDash": {"field": "kind", "type": "nominal", "scale": {"domain": ["med", "q"], "range": [[1, 0], [1.5, 1.5]]}, "legend": null}}},
             {"transform": [{"filter": "datum.kind == 'sep'"}], "mark": {"type": "rule", "color": "#111", "strokeWidth": 1.6, "strokeDash": [1.6, 1.6]},
              "encoding": {"x": {"datum": -9}, "y": {"datum": -8}, "y2": {"datum": 100}}}
           ]
         }}
      ]
    },
    {"spacing": -6, "hconcat": [
    {"width": 8, "height": 1, "data": {"values": [{}]},
     "mark": {"type": "text", "fontSize": 12, "align": "left", "baseline": "top", "dy": 2, "color": "#111"},
     "encoding": {"x": {"datum": 0, "type": "quantitative", "scale": {"domain": [0, 1]}, "axis": null}, "y": {"datum": 1, "type": "quantitative", "scale": {"domain": [0, 1]}, "axis": null}, "text": {"value": "E"}}},
    {
      "spacing": 10,
      "vconcat": [
        {"width": 392, "height": 26, "data": {"values": [{}]},
         "layer": [
           {"mark": {"type": "rule", "color": "#333", "strokeWidth": 1.2},
            "encoding": {"x": {"datum": -0.04, "type": "quantitative", "scale": {"domain": [0, 1]}, "axis": null}, "x2": {"datum": 1}, "y": {"datum": 0, "type": "quantitative", "scale": {"domain": [0, 1]}, "axis": null}}},
           {"mark": {"type": "text", "fontSize": 8, "lineHeight": 11, "lineBreak": "\n", "baseline": "top", "color": "#111"},
            "encoding": {"x": {"datum": 0.34, "type": "quantitative"}, "y": {"datum": 1, "type": "quantitative"}, "text": {"value": "NK-EVs\nTop 30 miRNAs"}}}
         ]},
        {"spacing": 8, "hconcat": [
          {"spacing": 2, "vconcat": [
            {"width": 51, "height": 12, "title": {"text": "U", "color": "#2b80c8", "fontSize": 12, "offset": 8}, "data": {"name": "sigv"}, "transform": [{"filter": "datum.set == 'U'"}],
             "encoding": {"y": {"field": "lv", "type": "quantitative", "scale": {"domain": [0.6, 3]}, "axis": null}},
             "layer": [
               {"mark": {"type": "rule", "color": "#333", "strokeWidth": 0.8}, "encoding": {"x": {"field": "a", "type": "ordinal", "scale": {"domain": [1,2,3], "paddingInner": 0, "paddingOuter": 0}, "axis": null}, "x2": {"field": "b"}}},
               {"mark": {"type": "tick", "orient": "vertical", "size": 4, "thickness": 0.8, "color": "#333"}, "encoding": {"x": {"field": "a", "type": "ordinal", "axis": null}}},
               {"mark": {"type": "tick", "orient": "vertical", "size": 4, "thickness": 0.8, "color": "#333"}, "encoding": {"x": {"field": "b", "type": "ordinal", "axis": null}}},
               {"mark": {"type": "text", "fontSize": 7.5, "baseline": "bottom", "dy": -2, "color": "#222"}, "encoding": {"x": {"field": "m", "type": "ordinal", "bandPosition": 0, "axis": null}, "text": {"field": "label"}}}
             ]},
            {"data": {"name": "viol"}, "transform": [{"filter": "datum.set == 'U'"}],
             "facet": {"column": {"field": "grp", "type": "ordinal", "header": {"title": null, "labelOrient": "bottom", "labelAngle": -45, "labelAlign": "right", "labelBaseline": "middle", "labelFontSize": 7.5, "labelPadding": 3, "labelExpr": "['Resting NK cells','Activated NK cells','NK-EVs'][(datum.value - 1) % 3]"}}},
             "spacing": 0,
             "spec": {
               "width": 17, "height": 132,
               "layer": [
                 {"transform": [{"filter": "!datum.kind"}], "mark": {"type": "area", "orient": "horizontal", "stroke": "#333", "strokeWidth": 0.6},
                  "encoding": {"y": {"field": "ptm", "type": "quantitative", "scale": {"domain": [0, 100]}, "axis": {"title": "PtMs (%)", "values": [0, 20, 40, 60, 80, 100], "tickSize": 4, "labelFontSize": 7, "titlePadding": 2}},
                    "x": {"field": "dens", "type": "quantitative", "stack": "center", "impute": null, "scale": {"domain": [-13.5, 37.5], "nice": false, "zero": false}, "axis": {"title": null, "labels": false, "values": [12], "tickSize": 3}},
                    "color": {"field": "grp", "type": "nominal", "scale": {"domain": [1,2,3,4,5,6], "range": ["#8ee68b","#c6daf0","#4848dc","#8ee68b","#c6daf0","#4848dc"]}, "legend": null}}},
                 {"transform": [{"filter": "datum.kind == 'med'"}], "mark": {"type": "tick", "color": "#111", "thickness": 0.8},
                  "encoding": {"y": {"field": "ptm", "type": "quantitative"}, "size": {"field": "dens", "type": "quantitative", "scale": {"domain": [0, 51], "range": [0, 17]}, "legend": null}}}
               ]
             }}
          ]},
          {"spacing": 2, "vconcat": [
            {"width": 51, "height": 12, "title": {"text": "A", "color": "#f39a2c", "fontSize": 12, "offset": 8}, "data": {"name": "sigv"}, "transform": [{"filter": "datum.set == 'A'"}],
             "encoding": {"y": {"field": "lv", "type": "quantitative", "scale": {"domain": [0.6, 3]}, "axis": null}},
             "layer": [
               {"mark": {"type": "rule", "color": "#333", "strokeWidth": 0.8}, "encoding": {"x": {"field": "a", "type": "ordinal", "scale": {"domain": [1,2,3], "paddingInner": 0, "paddingOuter": 0}, "axis": null}, "x2": {"field": "b"}}},
               {"mark": {"type": "tick", "orient": "vertical", "size": 4, "thickness": 0.8, "color": "#333"}, "encoding": {"x": {"field": "a", "type": "ordinal", "axis": null}}},
               {"mark": {"type": "tick", "orient": "vertical", "size": 4, "thickness": 0.8, "color": "#333"}, "encoding": {"x": {"field": "b", "type": "ordinal", "axis": null}}},
               {"mark": {"type": "text", "fontSize": 7.5, "baseline": "bottom", "dy": -2, "color": "#222"}, "encoding": {"x": {"field": "m", "type": "ordinal", "bandPosition": 0, "axis": null}, "text": {"field": "label"}}}
             ]},
            {"data": {"name": "viol"}, "transform": [{"filter": "datum.set == 'A'"}],
             "facet": {"column": {"field": "grp", "type": "ordinal", "header": {"title": null, "labelOrient": "bottom", "labelAngle": -45, "labelAlign": "right", "labelBaseline": "middle", "labelFontSize": 7.5, "labelPadding": 3, "labelExpr": "['Resting NK cells','Activated NK cells','NK-EVs'][(datum.value - 1) % 3]"}}},
             "spacing": 0,
             "spec": {
               "width": 17, "height": 132,
               "layer": [
                 {"transform": [{"filter": "!datum.kind"}], "mark": {"type": "area", "orient": "horizontal", "stroke": "#333", "strokeWidth": 0.6},
                  "encoding": {"y": {"field": "ptm", "type": "quantitative", "scale": {"domain": [0, 100]}, "axis": {"title": "PtMs (%)", "values": [0, 20, 40, 60, 80, 100], "tickSize": 4, "labelFontSize": 7, "titlePadding": 2}},
                    "x": {"field": "dens", "type": "quantitative", "stack": "center", "impute": null, "scale": {"domain": [-12.5, 38.5], "nice": false, "zero": false}, "axis": {"title": null, "labels": false, "values": [13], "tickSize": 3}},
                    "color": {"field": "grp", "type": "nominal", "scale": {"domain": [1,2,3,4,5,6], "range": ["#8ee68b","#c6daf0","#4848dc","#8ee68b","#c6daf0","#4848dc"]}, "legend": null}}},
                 {"transform": [{"filter": "datum.kind == 'med'"}], "mark": {"type": "tick", "color": "#111", "thickness": 0.8},
                  "encoding": {"y": {"field": "ptm", "type": "quantitative"}, "size": {"field": "dens", "type": "quantitative", "scale": {"domain": [0, 51], "range": [0, 17]}, "legend": null}}}
               ]
             }}
          ]},
          {"spacing": 2, "vconcat": [
            {"width": 51, "height": 12, "title": {"text": "C", "color": "#3cb44a", "fontSize": 12, "offset": 8}, "data": {"name": "sigv"}, "transform": [{"filter": "datum.set == 'C'"}],
             "encoding": {"y": {"field": "lv", "type": "quantitative", "scale": {"domain": [0.6, 3]}, "axis": null}},
             "layer": [
               {"mark": {"type": "rule", "color": "#333", "strokeWidth": 0.8}, "encoding": {"x": {"field": "a", "type": "ordinal", "scale": {"domain": [1,2,3], "paddingInner": 0, "paddingOuter": 0}, "axis": null}, "x2": {"field": "b"}}},
               {"mark": {"type": "tick", "orient": "vertical", "size": 4, "thickness": 0.8, "color": "#333"}, "encoding": {"x": {"field": "a", "type": "ordinal", "axis": null}}},
               {"mark": {"type": "tick", "orient": "vertical", "size": 4, "thickness": 0.8, "color": "#333"}, "encoding": {"x": {"field": "b", "type": "ordinal", "axis": null}}},
               {"mark": {"type": "text", "fontSize": 7.5, "baseline": "bottom", "dy": -2, "color": "#222"}, "encoding": {"x": {"field": "m", "type": "ordinal", "bandPosition": 0, "axis": null}, "text": {"field": "label"}}}
             ]},
            {"data": {"name": "viol"}, "transform": [{"filter": "datum.set == 'C'"}],
             "facet": {"column": {"field": "grp", "type": "ordinal", "header": {"title": null, "labelOrient": "bottom", "labelAngle": -45, "labelAlign": "right", "labelBaseline": "middle", "labelFontSize": 7.5, "labelPadding": 3, "labelExpr": "['Resting NK cells','Activated NK cells','NK-EVs'][(datum.value - 1) % 3]"}}},
             "spacing": 0,
             "spec": {
               "width": 17, "height": 132,
               "layer": [
                 {"transform": [{"filter": "!datum.kind"}], "mark": {"type": "area", "orient": "horizontal", "stroke": "#333", "strokeWidth": 0.6},
                  "encoding": {"y": {"field": "ptm", "type": "quantitative", "scale": {"domain": [0, 100]}, "axis": {"title": "PtMs (%)", "values": [0, 20, 40, 60, 80, 100], "tickSize": 4, "labelFontSize": 7, "titlePadding": 2}},
                    "x": {"field": "dens", "type": "quantitative", "stack": "center", "impute": null, "scale": {"domain": [-12.5, 38.5], "nice": false, "zero": false}, "axis": {"title": null, "labels": false, "values": [13], "tickSize": 3}},
                    "color": {"field": "grp", "type": "nominal", "scale": {"domain": [1,2,3,4,5,6], "range": ["#8ee68b","#c6daf0","#4848dc","#8ee68b","#c6daf0","#4848dc"]}, "legend": null}}},
                 {"transform": [{"filter": "datum.kind == 'med'"}], "mark": {"type": "tick", "color": "#111", "thickness": 0.8},
                  "encoding": {"y": {"field": "ptm", "type": "quantitative"}, "size": {"field": "dens", "type": "quantitative", "scale": {"domain": [0, 51], "range": [0, 17]}, "legend": null}}}
               ]
             }}
          ]},
          {"spacing": 2, "vconcat": [
            {"width": 51, "height": 12, "title": {"text": "G", "color": "#e6262c", "fontSize": 12, "offset": 8}, "data": {"name": "sigv"}, "transform": [{"filter": "datum.set == 'G'"}],
             "encoding": {"y": {"field": "lv", "type": "quantitative", "scale": {"domain": [0.6, 3]}, "axis": null}},
             "layer": [
               {"mark": {"type": "rule", "color": "#333", "strokeWidth": 0.8}, "encoding": {"x": {"field": "a", "type": "ordinal", "scale": {"domain": [1,2,3], "paddingInner": 0, "paddingOuter": 0}, "axis": null}, "x2": {"field": "b"}}},
               {"mark": {"type": "tick", "orient": "vertical", "size": 4, "thickness": 0.8, "color": "#333"}, "encoding": {"x": {"field": "a", "type": "ordinal", "axis": null}}},
               {"mark": {"type": "tick", "orient": "vertical", "size": 4, "thickness": 0.8, "color": "#333"}, "encoding": {"x": {"field": "b", "type": "ordinal", "axis": null}}},
               {"mark": {"type": "text", "fontSize": 7.5, "baseline": "bottom", "dy": -2, "color": "#222"}, "encoding": {"x": {"field": "m", "type": "ordinal", "bandPosition": 0, "axis": null}, "text": {"field": "label"}}}
             ]},
            {"data": {"name": "viol"}, "transform": [{"filter": "datum.set == 'G'"}],
             "facet": {"column": {"field": "grp", "type": "ordinal", "header": {"title": null, "labelOrient": "bottom", "labelAngle": -45, "labelAlign": "right", "labelBaseline": "middle", "labelFontSize": 7.5, "labelPadding": 3, "labelExpr": "['Resting NK cells','Activated NK cells','NK-EVs'][(datum.value - 1) % 3]"}}},
             "spacing": 0,
             "spec": {
               "width": 17, "height": 132,
               "layer": [
                 {"transform": [{"filter": "!datum.kind"}], "mark": {"type": "area", "orient": "horizontal", "stroke": "#333", "strokeWidth": 0.6},
                  "encoding": {"y": {"field": "ptm", "type": "quantitative", "scale": {"domain": [0, 100]}, "axis": {"title": "PtMs (%)", "values": [0, 20, 40, 60, 80, 100], "tickSize": 4, "labelFontSize": 7, "titlePadding": 2}},
                    "x": {"field": "dens", "type": "quantitative", "stack": "center", "impute": null, "scale": {"domain": [-20.5, 30.5], "nice": false, "zero": false}, "axis": {"title": null, "labels": false, "values": [5], "tickSize": 3}},
                    "color": {"field": "grp", "type": "nominal", "scale": {"domain": [1,2,3,4,5,6], "range": ["#8ee68b","#c6daf0","#4848dc","#8ee68b","#c6daf0","#4848dc"]}, "legend": null}}}
               ]
             }}
          ]}
        ]}
      ]
    }
    ]}
    ]}
  ]
}
]
}
